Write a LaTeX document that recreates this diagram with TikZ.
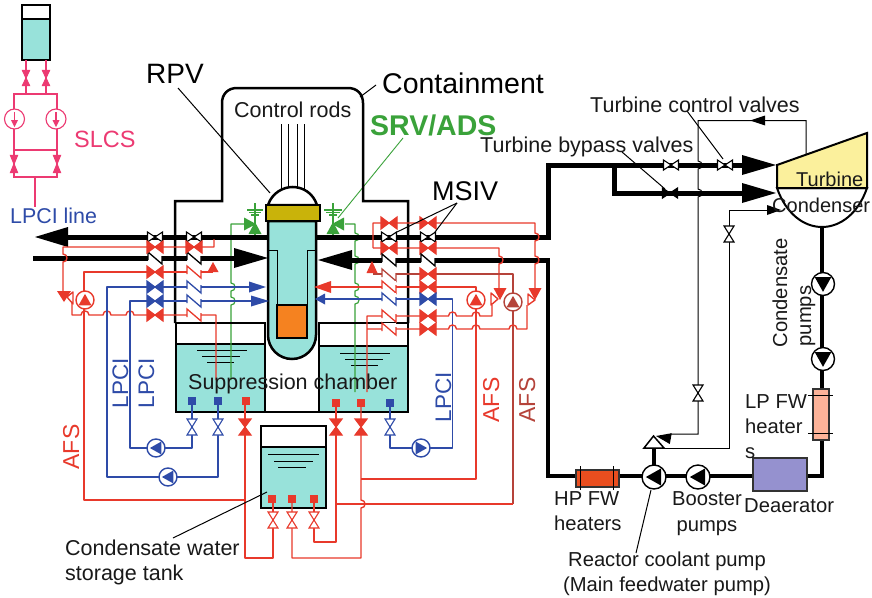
\documentclass[tikz,border=0pt]{standalone}
\usepackage{fontspec}
\setmainfont{Liberation Sans}
\definecolor{wat}{HTML}{98E2DA}
\definecolor{rd}{HTML}{E8392B}
\definecolor{brn}{HTML}{B5433A}
\definecolor{blu}{HTML}{2E4BA8}
\definecolor{grn}{HTML}{3AA23A}
\definecolor{pnk}{HTML}{EC3A72}
\definecolor{gold}{HTML}{C9B30A}
\definecolor{org}{HTML}{F58220}
\definecolor{ylw}{HTML}{FBF09C}
\definecolor{prp}{HTML}{9591CF}
\definecolor{lpf}{HTML}{FDB399}
\definecolor{hpf}{HTML}{E94E1F}
\newcommand{\fs}[1]{\fontsize{#1}{#1}\selectfont}
% bumps, to be used inside a path
\newcommand{\vb}[2]{-- (#1,#2-4) .. controls (#1+5.3,#2-4) and (#1+5.3,#2+4) .. (#1,#2+4)}
\newcommand{\hb}[2]{-- (#1-4,#2) .. controls (#1-4,#2-5.3) and (#1+4,#2-5.3) .. (#1+4,#2)}
% tip x y angle length half colour
\newcommand{\hd}[6]{\fill[#6,shift={(#1,#2)},rotate=#3] (0,0) -- (-#4,#5) -- (-#4,-#5) -- cycle;}
% horizontal bow-tie: x y angle halfw halfh fill draw
\newcommand{\bow}[7]{\draw[fill=#6,draw=#7,line width=1.1pt,line join=miter,shift={(#1,#2)},rotate=#3] (-#4,-#5) -- (#4,#5) -- (#4,-#5) -- (-#4,#5) -- cycle;}
% vertical hourglass valve: x y halfw halfh fill draw
\newcommand{\hgl}[6]{\draw[fill=#5,draw=#6,line width=1.1pt,line join=miter,shift={(#1,#2)}] (-#3,-#4) -- (#3,-#4) -- (-#3,#4) -- (#3,#4) -- cycle;}
% check valve: x y colour
\newcommand{\chk}[3]{\fill[white] (#1-7,#2-6) rectangle (#1+7,#2+6);
  \draw[#3,line width=1.3pt] (#1-7,#2+2) -- (#1-7,#2-6) -- (#1+7,#2+6) -- (#1+7,#2-2);}
% pump: x y r colour angle
\newcommand{\pmp}[5]{\draw[#4,fill=white,line width=1.4pt] (#1,#2) circle[radius=#3];
  \fill[#4,shift={(#1,#2)},rotate=#5] (0.68*#3,0) -- (-0.6*#3,0.72*#3) -- (-0.6*#3,-0.72*#3) -- cycle;}
\newcommand{\sqr}[3]{\fill[#3] (#1-4,#2-4) rectangle (#1+4,#2+4);}
\tikzset{
  txt/.style={inner sep=0pt,font=\fs{21.5},text=black!90},
  wall/.style={black,line width=2.5pt,line join=miter},
  lead/.style={black,line width=1pt},
  rp/.style={rd,line width=1.4pt,line join=round},
  bp/.style={brn,line width=1.4pt,line join=round},
  lp/.style={blu,line width=1.4pt,line join=round},
  gp/.style={grn,line width=1.2pt,line join=round},
  pp/.style={pnk,line width=1.1pt},
  main/.style={black,line width=5pt,line join=miter},
  feed/.style={black,line width=4pt,line join=miter},
  heat/.style={draw=black!80,line width=1.2pt}
}
\begin{document}
\begin{tikzpicture}[x=1pt,y=-1pt]
\useasboundingbox (0,0) rectangle (872,597);
\fill[white] (0,0) rectangle (872,597);

% ---------- SLCS
\fill[wat] (22,19) rectangle (50,60);
\draw[black,line width=1.6pt] (22,5) rectangle (50,60);
\draw[black,line width=1.2pt] (22,19) -- (50,19);
\draw[pp] (26,60) -- (26,94) (46,60) -- (46,94);
\draw[pp] (14,109) -- (14,94) -- (57,94) -- (57,109);
\draw[pp] (14,129) -- (14,177) -- (57,177) -- (57,129);
\draw[pp] (14,150) -- (57,150);
\draw[pp] (35,177) -- (35,207);
\hgl{26}{78}{3.5}{7.5}{pnk}{pnk}
\hgl{46}{78}{3.5}{7.5}{pnk}{pnk}
\hgl{14}{164}{3.5}{8.5}{pnk}{pnk}
\hgl{57}{164}{3.5}{8.5}{pnk}{pnk}
\foreach \px in {14.5,56}{
  \draw[pp] (\px,119) circle[radius=10];
  \draw[pp] (\px,112) -- (\px,122);
  \hd{\px}{127}{-90}{7}{3.5}{pnk}
}

% ---------- pools and water
\fill[wat] (176,344) rectangle (265,412);
\fill[wat] (319,346) rectangle (408,412);
\draw[black,line width=1.1pt] (176,344) -- (265,344);
\draw[black,line width=1.1pt] (319,346) -- (408,346);
\foreach \a/\b/\c in {197/247/350,202/240/356.5,207/234/362.5,340/390/353,345/383/359,351/378/365}{
  \draw[black,line width=1pt] (\a,\c) -- (\b,\c);
}

% ---------- condensate storage tank
\fill[wat] (261,447) rectangle (326,508);
\draw[black,line width=1.8pt] (261,426) rectangle (326,508);
\draw[black,line width=1.5pt] (261,447) -- (326,447);
\foreach \a/\b/\c in {268/319/454,274/313/461,278/306/467}{
  \draw[black,line width=1pt] (\a,\c) -- (\b,\c);
}

% ---------- green SRV lines
\draw[gp] (245,224) -- (231,224) \vb{231}{287} \vb{231}{301} -- (231,380);
\draw[gp] (345,224) -- (355,224) \vb{355}{237} \vb{355}{260} \vb{355}{287} \vb{355}{300} -- (355,392);
\draw[gp] (255,203) -- (255,238) (333,203) -- (333,238);
\draw[gp] (247,210) -- (263,210) (249,212.5) -- (261,212.5) (251,215) -- (259,215);
\draw[gp] (324,210) -- (342,210) (326,212.5) -- (340,212.5) (329,215) -- (337,215);
\hd{256}{224}{0}{12}{6.5}{grn}
\hd{255}{222}{90}{12}{6.5}{grn}
\hd{332}{224}{180}{12}{6.5}{grn}
\hd{333}{222}{90}{12}{6.5}{grn}
\draw[grn,line width=0.9pt] (403,138) -- (338,218);

% ---------- main steam / feedwater
\draw[main] (68,237) -- (268,237);
\hd{35}{237}{180}{33}{10}{black}
\draw[main] (33,258) -- (234,258);
\hd{268}{258}{0}{34}{10}{black}
\draw[main] (316,237) -- (548,237) -- (548,165) -- (742,165);
\hd{776}{165}{0}{34}{10}{black}
\draw[main] (614,165) -- (614,193) -- (742,193);
\hd{776}{193}{0}{34}{10}{black}
\draw[main] (352,260) -- (548,260);
\hd{318}{260}{180}{34}{10}{black}
\draw[feed] (548,258) -- (548,476) -- (753,476);
\draw[feed] (807,476) -- (822,476) -- (822,228);
\draw[feed] (654,476) -- (654,448);

% ---------- containment
\draw[wall] (408,323) -- (408,201) -- (363,201) -- (363,103) .. controls (363,94) and (357,88) .. (348,88) -- (237,88) .. controls (228,88) and (222,94) .. (222,103) -- (222,201) -- (175,201) -- (175,323);
\draw[wall] (176,323) rectangle (265,412);
\draw[wall] (319,323) rectangle (408,412);
\draw[wall] (265,412) -- (319,412);

% ---------- RPV
\draw[lead] (281,124) -- (281,190) (288,124) -- (288,188) (297,124) -- (297,188) (304,124) -- (304,190);
\draw[wall,fill=white] (268,205) .. controls (272,193) and (283,187) .. (292.5,187) .. controls (303,187) and (313,193) .. (317,205) -- cycle;
\draw[wall,fill=wat] (268,221) -- (268,335) arc[start angle=180,end angle=0,radius=24] -- (316,221) -- cycle;
\draw[black,line width=1pt] (269,250) -- (277,250) -- (277,305);
\draw[black,line width=1pt] (315,250) -- (307,250) -- (307,305);
\draw[black,line width=2.4pt,fill=org] (277,305) rectangle (307,338);
\draw[black,line width=2.2pt,fill=gold] (266,205) rectangle (320,221);

% ---------- left hand valve lines
\draw[rp] (214,239) -- (214,247) -- (63,247) \vb{63}{258} -- (63,292);
\draw[rp] (84,291) -- (84,272) -- (213,272);
\draw[rp] (72,303) -- (72,315) \hb{85}{315} \hb{107}{315} \hb{130}{315} -- (216,315) -- (216,380);
\draw[rp] (84,309) -- (84,500) -- (245,500);
\draw[lp] (250,287) -- (107,287) -- (107,477) -- (218,477) -- (218,401);
\draw[lp] (252,301) -- (130,301) -- (130,448) -- (192,448) -- (192,401);
\draw[rp] (245,401) -- (245,558) -- (273,558) -- (273,499);
\hd{64}{302}{-90}{11}{7}{rd}
\draw[rp,fill=white] (67,297) -- (73,292) -- (73,304) -- cycle;
\pmp{85}{300}{9}{rd}{90}
\hd{213}{262}{90}{10}{5.5}{rd}
\hd{266}{287}{0}{17}{5.5}{blu}
\hd{269}{301}{0}{18}{5.5}{blu}

% ---------- right hand valve lines
\draw[rp] (373,248) -- (373,223) -- (535,223) \vb{535}{237} \vb{535}{260} -- (535,288);
\draw[rp] (373,248) -- (499,248) \vb{499}{260} -- (499,288);
\hd{535}{300}{-90}{12}{6.5}{rd}
\hd{500}{300}{-90}{12}{6.5}{rd}
\draw[rp,fill=white] (528,294) -- (535,300) -- (528,305) -- cycle;
\draw[rp,fill=white] (491,293) -- (498,299) -- (491,305) -- cycle;
\draw[bp] (373,274) -- (513,274) -- (513,504);
\hd{372}{261}{90}{12}{5.5}{rd}
\draw[rp] (331,287) -- (476,287) -- (476,479) -- (361,479);
\hd{314}{287}{180}{17}{6}{rd}
\draw[lp] (325,299) -- (452.5,299) -- (452.5,448) -- (390,448) -- (390,403);
\hd{315}{299}{180}{10}{5.5}{blu}
\draw[rp] (367,392) -- (367,316) -- (447,316) \hb{452.5}{316} \hb{476}{316} -- (492,316) -- (492,305);
\draw[rp] (367,329) -- (447,329) \hb{452.5}{329} \hb{476}{329} \hb{513}{329} -- (527,329) -- (527,305);
\pmp{476}{300}{9}{rd}{90}
\pmp{513}{302}{9}{brn}{90}
\draw[rp] (513,504) -- (336,504);
\draw[rp] (336,403) -- (336,542) -- (314,542) -- (314,499);
\draw[rp] (361,403) \vb{361}{504} -- (361,558) -- (292,558) -- (292,499);

% ---------- valves, columns
\foreach \vx in {155,194}{
  \bow{\vx}{237}{0}{7.5}{5}{white}{black}
  \chk{\vx}{258}{black}
  \bow{\vx}{247}{0}{8}{6}{rd}{rd}
}
\bow{155}{272}{0}{8}{6}{rd}{rd}
\chk{194}{272}{rd}
\bow{155}{287}{0}{8}{6}{blu}{blu}
\chk{194}{287}{blu}
\bow{155}{301}{0}{8}{6}{blu}{blu}
\chk{194}{301}{blu}
\bow{155}{315}{0}{8}{6}{rd}{rd}
\chk{194}{315}{rd}
\foreach \vx in {389,428}{
  \bow{\vx}{237}{0}{7.5}{5}{white}{black}
  \bow{\vx}{223}{0}{8}{6}{rd}{rd}
  \bow{\vx}{248}{0}{8}{6}{rd}{rd}
  \chk{\vx}{260}{black}
}
\chk{389}{275}{brn}
\chk{389}{287}{rd}
\chk{389}{299}{blu}
\chk{389}{316}{rd}
\chk{389}{329}{rd}
\bow{428}{274}{0}{8}{6}{rd}{rd}
\bow{428}{287}{0}{8}{6}{rd}{rd}
\bow{428}{299}{0}{8}{6}{blu}{blu}
\bow{428}{316}{0}{8}{6}{rd}{rd}
\bow{428}{329}{0}{8}{6}{rd}{rd}

% ---------- pool valves, squares, pumps
\hgl{192}{427}{5}{8}{white}{blu}
\hgl{218}{427}{5}{8}{white}{blu}
\hgl{390}{427}{5}{8}{white}{blu}
\hgl{245}{427}{6}{8}{rd}{rd}
\hgl{336}{427}{6}{8}{rd}{rd}
\hgl{361}{427}{6}{8}{rd}{rd}
\hgl{273}{520}{5}{8}{white}{rd}
\hgl{292}{520}{5}{8}{white}{rd}
\hgl{314}{520}{5}{8}{white}{rd}
\sqr{192}{401}{blu}
\sqr{218}{401}{blu}
\sqr{246}{401}{rd}
\sqr{336}{403}{rd}
\sqr{361}{403}{rd}
\sqr{390}{403}{blu}
\sqr{272}{499}{rd}
\sqr{292}{499}{rd}
\sqr{314}{499}{rd}
\pmp{156}{448}{9}{blu}{180}
\pmp{168}{477}{9}{blu}{180}
\pmp{421}{448}{9}{blu}{0}

% ---------- turbine hall
\draw[black,line width=2pt,fill=white] (777,188) .. controls (786,214) and (804,227) .. (822,227) .. controls (840,227) and (858,214) .. (867,188) -- cycle;
\draw[black,line width=2pt,fill=ylw,line join=miter] (777,165) -- (867,133) -- (867,188) -- (777,188) -- cycle;
\draw[lead] (806,154) -- (806,120.5) -- (698,120.5) \vb{698}{165} \vb{698}{193} -- (698,434) -- (670,434);
\hd{750}{120.5}{180}{15}{5}{black}
\hd{656}{436}{170}{15}{5.5}{black}
\draw[lead] (664,448) -- (729,448) -- (729,210) -- (770,210);
\hd{781}{210}{0}{14}{5}{black}
\hgl{698}{393}{5}{8}{white}{black}
\hgl{729}{234}{5}{8}{white}{black}
\bow{671}{165}{0}{7.5}{5}{white}{black}
\bow{725}{165}{0}{7.5}{5}{white}{black}
\bow{670}{193}{0}{7.5}{5}{black}{black}
\draw[black,line width=1.5pt,fill=white] (644,448) -- (664,448) -- (653.5,436) -- cycle;
\pmp{654}{477}{12}{black}{180}
\pmp{698}{477}{12}{black}{180}
\pmp{823}{284}{11.5}{black}{-90}
\pmp{823}{359}{11.5}{black}{-90}
\draw[heat,fill=lpf] (813,389) rectangle (829,440);
\draw[black,line width=1pt] (808,395) -- (833,395) (808,433) -- (833,433);
\draw[heat,fill=hpf] (576,470) rectangle (619,487);
\draw[black,line width=1pt] (580,466) -- (580,490) (613,466) -- (613,490);
\draw[heat,fill=prp] (753,458) rectangle (807,491);

% ---------- leaders
\draw[lead] (178,88) -- (270,193);
\draw[lead] (360,97) -- (376,85);
\draw[lead] (457,203) -- (397,232);
\draw[lead] (457,203) -- (435,232);
\draw[lead] (173,538) -- (267,492);
\draw[lead] (687,111) -- (723,159);
\draw[lead] (622,152) -- (665,189);
\draw[lead] (651,490) -- (636,553);

% ---------- labels
\node[txt,anchor=base west,font=\fs{28},text=black] (rpv) at (146,83) {RPV};
\node[txt,anchor=base west,font=\fs{28.5},text=black] (cont) at (382,93) {Containment};
\node[txt,anchor=base west] (rods) at (234,117) {Control rods};
\node[txt,anchor=base west,font=\fs{28.5}\bfseries,text=grn] (srv) at (370,135) {SRV/ADS};
\node[txt,anchor=base west,font=\fs{27},text=black] (msiv) at (432,200) {MSIV};
\node[txt,anchor=base west,font=\fs{23.5},text=pnk] (slcs) at (74,147) {SLCS};
\node[txt,anchor=base west,font=\fs{21.4},text=blu] (lpl) at (10,223) {LPCI line};
\node[txt,anchor=base west] (tcv) at (590,112) {Turbine control valves};
\node[txt,anchor=base west] (tbv) at (480,152) {Turbine bypass valves};
\node[txt,anchor=base west,font=\fs{20}] (tur) at (796,186) {Turbine};
\node[txt,anchor=base west,font=\fs{20}] (con) at (772,212) {Condenser};
\node[txt,anchor=base,rotate=90,font=\fs{20.2}] (cd1) at (787,293) {Condensate};
\node[txt,anchor=base,rotate=90,font=\fs{20.2}] (cd2) at (811,316) {pumps};
\node[txt,anchor=base west,font=\fs{20.2}] (lp1) at (745,408) {LP FW};
\node[txt,anchor=base west,font=\fs{20.2}] (lp2) at (745,433) {heater};
\node[txt,anchor=base west,font=\fs{20.2}] (lp3) at (745,458) {s};
\node[txt,anchor=base west,font=\fs{20.2}] (hp1) at (554,505) {HP FW};
\node[txt,anchor=base west,font=\fs{20.2}] (hp2) at (554,530) {heaters};
\node[txt,anchor=base,font=\fs{20.2}] (bo1) at (707,505.5) {Booster};
\node[txt,anchor=base,font=\fs{20.2}] (bo2) at (707,531) {pumps};
\node[txt,anchor=base west,font=\fs{20.2}] (dea) at (744,512) {Deaerator};
\node[txt,anchor=base,font=\fs{20.2}] (rc1) at (667,566) {Reactor coolant pump};
\node[txt,anchor=base,font=\fs{20.2}] (rc2) at (667,591) {(Main feedwater pump)};
\node[txt,anchor=base west] (sup) at (188,389) {Suppression chamber};
\node[txt,anchor=base west] (cw1) at (65,555) {Condensate water};
\node[txt,anchor=base west] (cw2) at (65,580) {storage tank};
\node[txt,anchor=base,rotate=90,font=\fs{22.5},text=blu] (l1) at (128,383) {LPCI};
\node[txt,anchor=base,rotate=90,font=\fs{22.5},text=blu] (l2) at (154,383) {LPCI};
\node[txt,anchor=base,rotate=90,font=\fs{22.5},text=blu] (l3) at (451,397) {LPCI};
\node[txt,anchor=base,rotate=90,font=\fs{23},text=rd] (a1) at (79,447) {AFS};
\node[txt,anchor=base,rotate=90,font=\fs{23},text=rd] (a2) at (499,400) {AFS};
\node[txt,anchor=base,rotate=90,font=\fs{23},text=brn] (a3) at (535,400) {AFS};
\end{tikzpicture}
\end{document}
